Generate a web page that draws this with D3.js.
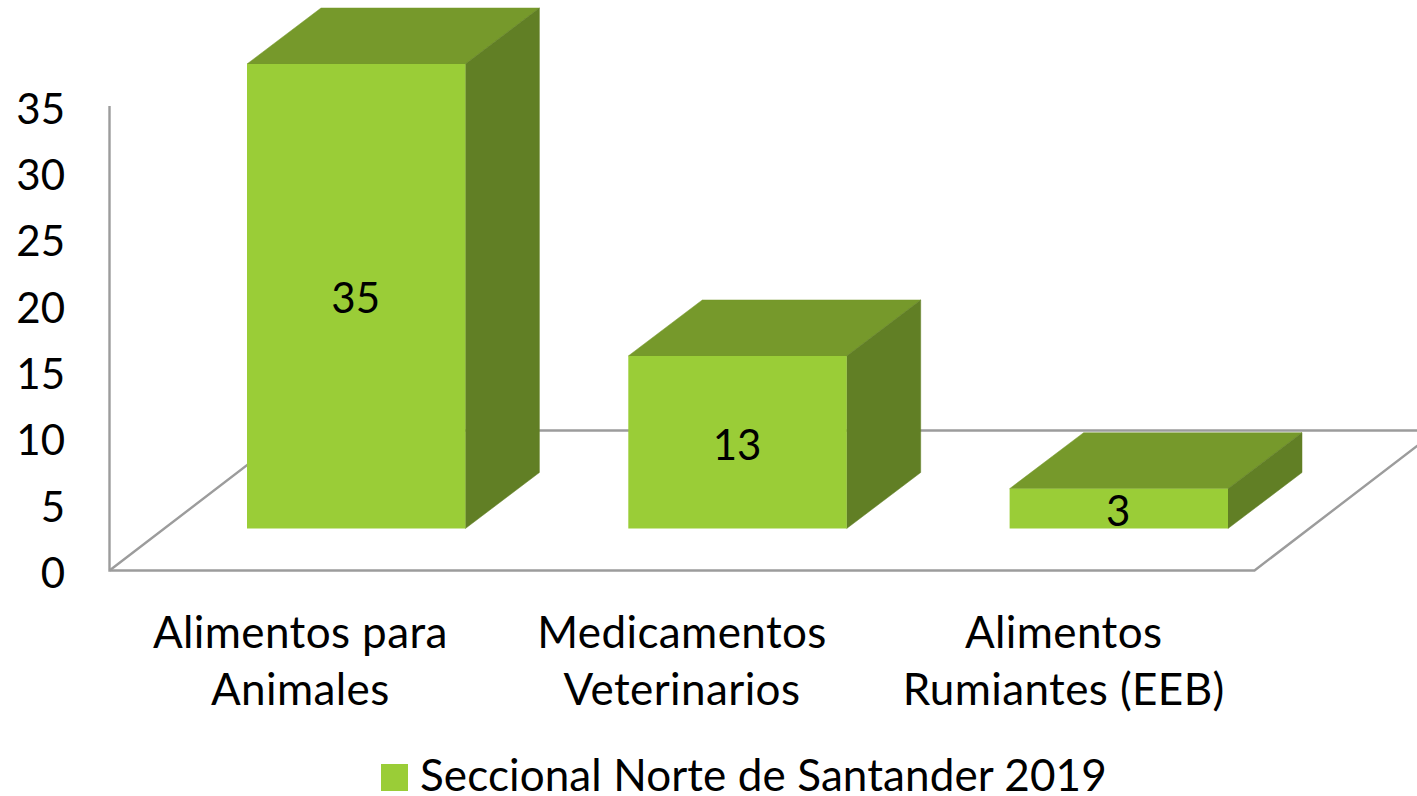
<!DOCTYPE html>
<html><head><meta charset="utf-8">
<script src="https://cdn.jsdelivr.net/npm/d3@7/dist/d3.min.js"></script>
<style>html,body{margin:0;padding:0;background:#fff;overflow:hidden}svg{display:block}text{font-family:Lato,"Open Sans",sans-serif;fill:#000}</style>
</head><body><svg id="c" width="1417" height="796"></svg>
<script>
const categories = [["Alimentos para","Animales"],["Medicamentos","Veterinarios"],["Alimentos","Rumiantes (EEB)"]];
const values = [35,13,3];
const yTicks = [0,5,10,15,20,25,30,35];
const seriesName = "Seccional Norte de Santander 2019";

const svg=d3.select("#c");
const ids=categories.map((d,i)=>i);
const y=d3.scaleLinear().domain([0,35]).range([570.5,106]);
const x=d3.scaleBand().domain(ids).range([247,1228]).paddingInner(163/381.5).paddingOuter(0);
const xLab=d3.scaleBand().domain(ids).range([109.5,1254.5]);
const depth={dx:74,dy:-56};
const baseShift=-42;            // bars stand inside the floor
const floorBack=430.5, axisCol="#9c9c9c";
const fs=42, fsCat=44;

// walls and floor
const g=svg.append("g").attr("fill","none").attr("stroke",axisCol).attr("stroke-width",2.4);
const floorSlope=(1417-1254.5)/(570.5-446);
g.append("path").attr("d",d3.line()([[109.5,y(35)],[109.5,y(0)],[1254.5,y(0)],[1254.5+(y(0)-floorBack)*floorSlope,floorBack]]));
g.append("path").attr("d",d3.line()([[109.5,y(0)],[109.5+(y(0)-floorBack)*floorSlope,floorBack],[1417,floorBack]]));

// bars
const bars=svg.selectAll(".bar").data(values).join("g").attr("class","bar");
const bx=(d,i)=>x(i), bw=x.bandwidth();
const barTop=d=>y(d)+baseShift, barBot=y(0)+baseShift;
bars.append("path").attr("fill","#76992b").attr("stroke","#76992b").attr("stroke-width",.5)
 .attr("d",(d,i)=>d3.line()([[bx(d,i),barTop(d)],[bx(d,i)+depth.dx,barTop(d)+depth.dy],[bx(d,i)+bw+depth.dx,barTop(d)+depth.dy],[bx(d,i)+bw,barTop(d)]])+"Z");
bars.append("path").attr("fill","#617f25").attr("stroke","#617f25").attr("stroke-width",.5)
 .attr("d",(d,i)=>d3.line()([[bx(d,i)+bw,barTop(d)],[bx(d,i)+bw+depth.dx,barTop(d)+depth.dy],[bx(d,i)+bw+depth.dx,barBot+depth.dy],[bx(d,i)+bw,barBot]])+"Z");
bars.append("rect").attr("x",bx).attr("y",barTop).attr("width",bw).attr("height",d=>barBot-barTop(d)).attr("fill","#9acd37");

// value labels
bars.append("text").attr("x",(d,i)=>bx(d,i)+bw/2-0.5).attr("y",(d,i)=>[313,460,526][i])
 .attr("text-anchor","middle").attr("font-size",fs).text(d=>d);

// y tick labels
svg.selectAll(".yl").data(yTicks).join("text").attr("class","yl")
 .attr("x",65).attr("y",d=>y(d)+17.5).attr("text-anchor","end").attr("font-size",fs).text(d=>d);

// category labels
categories.forEach((ls,i)=>ls.forEach((t,j)=>{
 svg.append("text").attr("x",xLab(i)+xLab.bandwidth()/2).attr("y",648+j*57).attr("text-anchor","middle")
   .attr("font-size",fsCat).attr("letter-spacing",0.4).text(t);
}));

// legend
svg.append("rect").attr("x",381).attr("y",764).attr("width",27).attr("height",27).attr("fill","#9acd37");
svg.append("text").attr("x",420).attr("y",791).attr("font-size",fsCat).attr("letter-spacing",0.1).text(seriesName);
</script></body></html>
